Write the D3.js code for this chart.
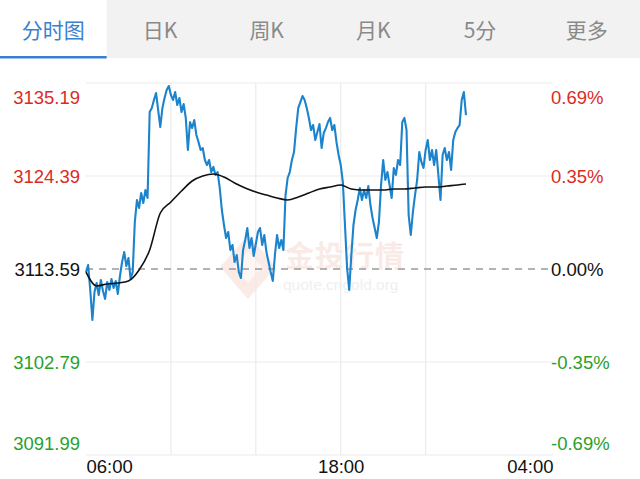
<!DOCTYPE html>
<html>
<head>
<meta charset="utf-8">
<script src="https://cdn.jsdelivr.net/npm/d3@7"></script>
<style>
  html, body { margin: 0; padding: 0; background: #fff; }
  svg { display: block; }
</style>
</head>
<body>
<svg id="chart" width="640" height="479"></svg>
<script>
// ---------- DATA ----------
const tabs = ["分时图", "日K", "周K", "月K", "5分", "更多"];
const basePrice = 3113.59;
const priceTicks = [3135.19, 3124.39, 3113.59, 3102.79, 3091.99];
const pctTicks = ["0.69%", "0.35%", "0.00%", "-0.35%", "-0.69%"];
const timeTicks = [0, 720, 1320];            // minutes after 06:00
const timeTickLabels = ["06:00", "18:00", "04:00"];
const gridTimes = [240, 480, 720, 960];
const stepMin = 6;                            // minutes between price samples, from 06:00
const prices = [
  3113.24, 3114.05, 3111.15, 3107.67, 3110.92, 3111.96, 3110.57, 3112.31, 3111.03, 3110.11,
  3112.08, 3111.15, 3112.43, 3111.38, 3112.20, 3110.69, 3112.78, 3114.40, 3115.56, 3113.94,
  3114.87, 3112.43, 3113.24, 3119.05, 3121.60, 3120.67, 3122.42, 3121.25, 3122.76, 3121.84,
  3131.82, 3132.29, 3133.22, 3134.03, 3132.05, 3130.08, 3132.29, 3133.45, 3134.38, 3134.84,
  3133.80, 3133.22, 3134.14, 3132.64, 3133.45, 3131.82, 3132.75, 3131.13, 3127.41, 3130.66,
  3129.96, 3130.89, 3129.15, 3128.34, 3127.41, 3127.64, 3126.25, 3125.67, 3126.25, 3124.85,
  3125.44, 3124.51, 3124.85, 3123.00, 3120.44, 3118.70, 3117.19, 3117.89, 3115.80, 3116.38,
  3114.40, 3115.22, 3113.24, 3112.54, 3115.80, 3116.96, 3118.35, 3116.03, 3117.19, 3115.10,
  3116.49, 3117.89, 3118.35, 3116.38, 3117.54, 3115.56, 3114.40, 3113.24, 3112.20, 3115.22,
  3117.54, 3116.03, 3116.96, 3115.80, 3122.18, 3124.16, 3124.85, 3126.25, 3127.18, 3129.96,
  3132.29, 3132.98, 3133.68, 3133.22, 3132.29, 3131.13, 3129.73, 3130.31, 3128.57, 3129.50,
  3130.43, 3127.64, 3129.38, 3129.96, 3130.66, 3131.13, 3129.73, 3130.31, 3128.34, 3126.83,
  3125.67, 3123.69, 3118.70, 3113.71, 3111.15, 3115.22, 3118.70, 3120.44, 3121.60, 3123.00,
  3121.60, 3122.76, 3121.84, 3123.23, 3121.02, 3119.51, 3118.35, 3117.19, 3119.05, 3123.34,
  3126.25, 3123.93, 3124.85, 3123.34, 3121.84, 3125.32, 3124.51, 3126.25, 3125.67, 3130.66,
  3131.13, 3129.73, 3119.86, 3117.54, 3120.21, 3122.18, 3123.93, 3127.18, 3126.02, 3125.32,
  3127.41, 3128.57, 3126.25, 3127.41, 3125.67, 3127.41, 3124.51, 3121.60, 3126.83, 3127.64,
  3126.25, 3127.18, 3125.09, 3128.57, 3129.50, 3129.96, 3130.31, 3133.22, 3134.14, 3131.47
];
const avgStepMin = 30;                        // minutes between average samples
const avgPrices = [
  3113.24, 3111.62, 3111.85, 3111.96, 3112.20, 3113.47, 3115.80, 3120.09, 3121.37, 3122.65,
  3123.81, 3124.39, 3124.62, 3124.27, 3123.58, 3123.00, 3122.53, 3122.18, 3121.84, 3121.60,
  3121.95, 3122.42, 3122.88, 3123.11, 3123.34, 3122.88, 3122.76, 3122.76, 3122.76, 3122.88,
  3122.88, 3123.00, 3123.11, 3123.11, 3123.23, 3123.34, 3123.46
];

// ---------- LAYOUT ----------
const svg = d3.select("#chart");
const W = 640;
const plot = { left: 86, right: 553, top: 83, bottom: 455 };
const numFont = "'Liberation Sans', Arial, Helvetica, sans-serif";
const cjkFont = "'Noto Sans CJK SC', 'Noto Sans', sans-serif";
const RED = "#dc2b24", GREEN = "#2a9f2c", BLACK = "#111";

// ---------- TABS ----------
const tabW = W / tabs.length;
svg.append("rect").attr("x", 0).attr("y", 0).attr("width", W).attr("height", 58).attr("fill", "#f2f2f2");
svg.append("rect").attr("x", 0).attr("y", 0).attr("width", tabW).attr("height", 58).attr("fill", "#fff");
svg.append("rect").attr("x", 0).attr("y", 56).attr("width", tabW).attr("height", 2.5).attr("fill", "#3b80cf");
svg.selectAll("text.tab").data(tabs).join("text")
  .attr("class", "tab")
  .attr("x", (d, i) => tabW * i + tabW / 2)
  .attr("y", 29)
  .attr("text-anchor", "middle")
  .attr("dominant-baseline", "central")
  .attr("font-family", cjkFont)
  .attr("font-size", 21)
  .attr("fill", (d, i) => i === 0 ? "#3b80cf" : "#8a8a8a")
  .text(d => d);

// ---------- SCALES ----------
const x = d3.scaleLinear().domain([0, 1320]).range([plot.left, plot.right]);
const y = d3.scaleLinear().domain([priceTicks[4], priceTicks[0]]).range([plot.bottom, plot.top]);

// ---------- WATERMARK ----------
const wm = svg.append("g").attr("opacity", 0.4);
const cx = 248, cy = 265;
wm.append("path")
  .attr("d", `M${cx},${cy - 30} L${cx + 28},${cy + 2} L${cx},${cy + 34} L${cx - 28},${cy + 2} Z`)
  .attr("fill", "#f4cfc2");
wm.append("path")
  .attr("d", `M${cx},${cy - 14} L${cx + 14},${cy + 2} L${cx},${cy + 18} L${cx - 14},${cy + 2} Z`)
  .attr("fill", "#fbe9e3");
wm.append("text").attr("x", 285).attr("y", 254).attr("dominant-baseline", "central")
  .attr("font-family", cjkFont).attr("font-size", 29).attr("font-weight", "bold")
  .attr("fill", "#f3cdc3").attr("letter-spacing", 1).text("金投行情");
wm.append("text").attr("x", 283).attr("y", 284).attr("dominant-baseline", "central")
  .attr("font-family", numFont).attr("font-size", 15.5)
  .attr("fill", "#d8d8d8").text("quote.cngold.org");

// ---------- GRID ----------
const grid = svg.append("g");
grid.selectAll("line.h").data(priceTicks.filter(p => p !== basePrice)).join("line")
  .attr("x1", plot.left).attr("x2", plot.right)
  .attr("y1", d => y(d)).attr("y2", d => y(d))
  .attr("stroke", "#ebebeb").attr("stroke-width", 1.2);
grid.selectAll("line.v").data(gridTimes).join("line")
  .attr("x1", d => x(d)).attr("x2", d => x(d))
  .attr("y1", plot.top).attr("y2", plot.bottom)
  .attr("stroke", "#ebebeb").attr("stroke-width", 1.2);
grid.append("line")
  .attr("x1", plot.left).attr("x2", plot.right - 3)
  .attr("y1", y(basePrice)).attr("y2", y(basePrice))
  .attr("stroke", "#9a9a9a").attr("stroke-width", 1.4).attr("stroke-dasharray", "7,6");

// ---------- LINES ----------
const priceData = prices.map((p, i) => ({ t: i * stepMin, p }));
const lastT = priceData[priceData.length - 1].t;
const avgData = avgPrices.map((p, i) => ({ t: Math.min(i * avgStepMin, lastT), p }));

svg.append("path").datum(priceData)
  .attr("fill", "none").attr("stroke", "#1b84cc").attr("stroke-width", 2.1)
  .attr("stroke-linejoin", "round")
  .attr("d", d3.line().x(d => x(d.t)).y(d => y(d.p)));

svg.append("path").datum(avgData)
  .attr("fill", "none").attr("stroke", "#111").attr("stroke-width", 1.6)
  .attr("d", d3.line().curve(d3.curveMonotoneX).x(d => x(d.t)).y(d => y(d.p)));

// ---------- AXES ----------
const colorFor = i => i < 2 ? RED : (i === 2 ? BLACK : GREEN);
const labelShift = i => i === 0 ? 14 : (i === 4 ? -12 : 0);

const yLeft = svg.append("g").attr("transform", `translate(${plot.left - 6},0)`)
  .call(d3.axisLeft(y).tickValues(priceTicks).tickSize(0).tickPadding(0).tickFormat(d3.format(".2f")));
yLeft.select(".domain").remove();
yLeft.selectAll(".tick text")
  .attr("font-family", numFont).attr("font-size", 18.5)
  .attr("fill", (d, i) => colorFor(i))
  .attr("dy", (d, i) => labelShift(i) + 6.5 + "px");

const yRight = svg.append("g").attr("transform", `translate(${plot.right - 2},0)`)
  .call(d3.axisRight(y).tickValues(priceTicks).tickSize(0).tickPadding(0).tickFormat((d, i) => pctTicks[i]));
yRight.select(".domain").remove();
yRight.selectAll(".tick text")
  .attr("font-family", numFont).attr("font-size", 18.5)
  .attr("fill", (d, i) => colorFor(i))
  .attr("dy", (d, i) => labelShift(i) + 6.5 + "px");

const xAxis = svg.append("g").attr("transform", `translate(0,${plot.bottom})`)
  .call(d3.axisBottom(x).tickValues(timeTicks).tickSize(0).tickPadding(0).tickFormat((d, i) => timeTickLabels[i]));
xAxis.select(".domain").remove();
xAxis.selectAll(".tick text")
  .attr("font-family", numFont).attr("font-size", 18.5).attr("fill", BLACK)
  .attr("dy", "0").attr("y", 18)
  .attr("text-anchor", (d, i) => i === 0 ? "start" : (i === timeTicks.length - 1 ? "end" : "middle"));
</script>
</body>
</html>
